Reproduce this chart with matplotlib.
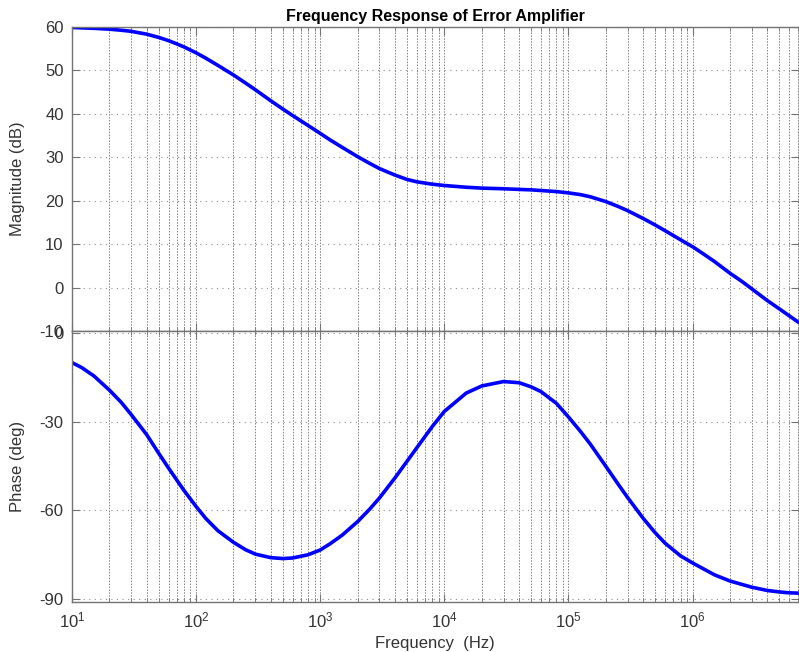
import matplotlib
matplotlib.use("Agg")
import matplotlib.pyplot as plt
from matplotlib.ticker import LogLocator, NullFormatter, FixedLocator

plt.rcParams['font.family'] = ['Liberation Sans', 'DejaVu Sans']
plt.rcParams['mathtext.fontset'] = 'custom'
plt.rcParams['mathtext.rm'] = 'Liberation Sans'
plt.rcParams['mathtext.it'] = 'Liberation Sans'
plt.rcParams['axes.unicode_minus'] = False

# ---- data ----
mag_freq = [10, 12, 15, 20, 25, 30, 40, 50, 60, 70, 80, 100, 120, 150, 200,
            250, 300, 400, 500, 600, 800, 1000, 1200, 1500, 2000, 2500, 3000,
            4000, 5000, 6000, 8000, 1e4, 1.5e4, 2e4, 3e4, 4e4, 5e4, 6e4, 8e4,
            1e5, 1.25e5, 1.5e5, 2e5, 2.5e5, 3e5, 4e5, 5e5, 6e5, 8e5, 1e6,
            1.2e6, 1.5e6, 2e6, 2.5e6, 3e6, 4e6, 5e6, 6e6, 7.13e6]
mag_db = [59.9, 59.8, 59.7, 59.5, 59.25, 59.0, 58.35, 57.6, 56.85, 56.1, 55.4,
          54.05, 52.8, 51.15, 48.95, 47.1, 45.55, 43.0, 41.1, 39.6, 37.3, 35.5,
          34.0, 32.3, 30.15, 28.6, 27.4, 25.9, 24.9, 24.35, 23.8, 23.5, 23.1,
          22.9, 22.75, 22.6, 22.5, 22.35, 22.1, 21.8, 21.4, 20.9, 19.8, 18.7,
          17.7, 15.9, 14.4, 13.1, 11.0, 9.4, 7.9, 6.0, 3.3, 1.4, -0.3, -3.0,
          -4.9, -6.5, -8.0]

ph_freq = [10, 12, 15, 20, 25, 30, 40, 50, 60, 70, 80, 100, 120, 150, 200,
           250, 300, 400, 500, 600, 800, 1000, 1200, 1500, 2000, 2500, 3000,
           4000, 5000, 6000, 8000, 1e4, 1.5e4, 2e4, 3e4, 4e4, 5e4, 6e4, 8e4,
           1e5, 1.25e5, 1.5e5, 2e5, 2.5e5, 3e5, 4e5, 5e5, 6e5, 8e5, 1e6,
           1.5e6, 2e6, 3e6, 4e6, 5e6, 6e6, 7.13e6]
ph_deg = [-10.0, -11.7, -14.5, -19.3, -23.5, -27.6, -34.4, -40.7, -45.7, -49.8,
          -53.3, -58.7, -62.8, -66.9, -70.8, -73.3, -74.8, -76.0, -76.3, -76.1,
          -75.0, -73.4, -71.3, -68.4, -63.8, -59.6, -55.8, -49.0, -43.4, -38.8,
          -31.6, -26.5, -20.3, -17.9, -16.4, -16.8, -18.2, -19.8, -23.8, -28.4,
          -33.3, -37.6, -45.1, -51.0, -55.7, -62.7, -67.6, -71.1, -75.4, -77.8,
          -81.8, -83.9, -86.0, -87.1, -87.6, -87.9, -88.0]

mag_ticks = [-10, 0, 10, 20, 30, 40, 50, 60]
ph_ticks = [-90, -60, -30, 0]
x_range = (10, 7.13e6)

title = "Frequency Response of Error Amplifier"
xlabel = "Frequency  (Hz)"
mag_label = "Magnitude (dB)"
ph_label = "Phase (deg)"

# ---- figure ----
W, H = 799, 652
fig = plt.figure(figsize=(W / 100, H / 100), dpi=100)
left = 72 / W
width = 726.5 / W
ax1 = fig.add_axes([left, 1 - 331 / H, width, (331 - 27) / H])
ax2 = fig.add_axes([left, 1 - 602 / H, width, (602 - 331) / H])

line_col = '#0000ff'
spine_col = '0.45'
txt_col = '0.2'

def style(ax):
    ax.set_xscale('log')
    ax.set_xlim(*x_range)
    ax.xaxis.set_major_locator(LogLocator(base=10, numticks=20))
    ax.xaxis.set_minor_locator(LogLocator(base=10, subs=range(2, 10), numticks=20))
    ax.xaxis.set_minor_formatter(NullFormatter())
    for s in ax.spines.values():
        s.set_color(spine_col)
        s.set_linewidth(1.0)
    ax.tick_params(which='both', direction='in', top=True, right=True,
                   colors=spine_col, labelcolor=txt_col, labelsize=12)
    ax.tick_params(which='major', length=6, pad=6)
    ax.tick_params(which='minor', length=3)
    ax.grid(True, which='major', axis='x', color='0.5', linestyle=(0, (1.5, 1.5)), linewidth=0.7)
    ax.grid(True, which='minor', axis='x', color='0.5', linestyle=(0, (1.5, 1.5)), linewidth=0.7)
    ax.grid(True, which='major', axis='y', color='0.55', linestyle=(0, (1, 4)), linewidth=0.8)

style(ax1)
style(ax2)

ax1.plot(mag_freq, mag_db, color=line_col, linewidth=2.6,
         solid_capstyle='round', solid_joinstyle='round')
ax1.set_ylim(-10, 60)
ax1.yaxis.set_major_locator(FixedLocator(mag_ticks))
ax1.tick_params(axis='x', which='both', labelbottom=False)
ax1.set_ylabel(mag_label, fontsize=12, color=txt_col)
ax1.set_title(title, fontsize=11.5, fontweight='bold', color='black', pad=4)

ax2.plot(ph_freq, ph_deg, color=line_col, linewidth=2.6,
         solid_capstyle='round', solid_joinstyle='round')
ax2.set_ylim(-91, 0.7)
ax2.yaxis.set_major_locator(FixedLocator(ph_ticks))
ax2.set_ylabel(ph_label, fontsize=12, color=txt_col)
ax2.set_xlabel(xlabel, fontsize=12, color=txt_col, labelpad=4)

ax1.yaxis.set_label_coords(-0.065, 0.5)
ax2.yaxis.set_label_coords(-0.065, 0.5)

fig.savefig('out.png', dpi=100)
